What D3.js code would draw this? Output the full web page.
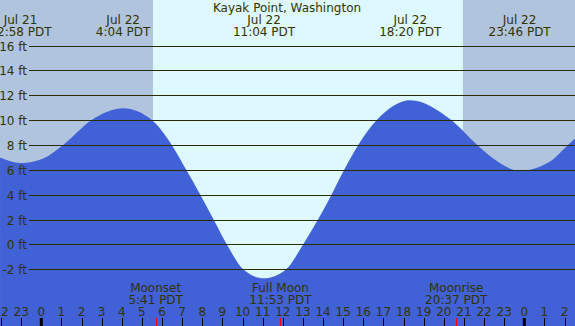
<!DOCTYPE html>
<html><head><meta charset="utf-8">
<script src="https://cdn.jsdelivr.net/npm/d3@7/dist/d3.min.js"></script>
<style>html,body{margin:0;padding:0;background:#fff;}svg{display:block;font-family:"DejaVu Sans",sans-serif;}</style>
</head><body>
<script>
// ---- data (hours relative to Jul 22 00:00 PDT) ----
const title = "Kayak Point, Washington";
const sampleHours = [-2.05, -1.033, 0.1, 1.09, 2.5, 4.067, 5.49, 6.48, 7.2, 7.9, 8.56, 9.22, 10.03, 11.067, 12.17, 13.01, 13.75, 14.42, 15.05, 15.75, 16.67, 18.333, 20.37, 21.66, 22.44, 23.767, 25.26, 26.17, 26.52];
const sampleFeet  = [7.0, 6.55, 6.92, 8.0, 10.0, 10.95, 10.0, 8.0, 6.0, 4.0, 2.0, 0.0, -2.0, -2.73, -2.0, 0.0, 2.0, 4.0, 6.0, 8.0, 10.0, 11.6, 10.0, 8.0, 6.93, 5.93, 6.65, 8.0, 8.53];
const extremeHours = [-1.033, 4.067, 11.067, 18.333, 23.767];
const extremeDates = ["Jul 21", "Jul 22", "Jul 22", "Jul 22", "Jul 22"];
const extremeTimes = ["22:58 PDT", "4:04 PDT", "11:04 PDT", "18:20 PDT", "23:46 PDT"];
const moonHours = [5.683, 11.883, 20.617];
const moonNames = ["Moonset", "Full Moon", "Moonrise"];
const moonTimes = ["5:41 PDT", "11:53 PDT", "20:37 PDT"];
const sunriseHour = 5.55, sunsetHour = 20.95;
const hourTicks = d3.range(-2, 27);
const hourLabels = hourTicks.map(h => String((h + 24) % 24));
const feetTicks = [-2, 0, 2, 4, 6, 8, 10, 12, 14, 16];
const feetLabels = feetTicks.map(f => f + " ft");

// ---- layout ----
const W = 575, H = 326;
const x = d3.scaleLinear().domain([0, 24]).range([41.3, 41.3 + 24 * 20.125]);
const y = d3.scaleLinear().domain([0, 16]).range([244.4, 45.5]);
const ink = "#333300";

const svg = d3.select("body").append("svg").attr("width", W).attr("height", H);
svg.append("rect").attr("width", W).attr("height", H).attr("fill", "#b0c4de");
svg.append("rect").attr("x", x(sunriseHour)).attr("y", 0)
  .attr("width", x(sunsetHour) - x(sunriseHour)).attr("height", H).attr("fill", "#ddf8ff");

const pts = sampleHours.map((h, i) => [h, sampleFeet[i]]);
const area = d3.area().x(d => x(d[0])).y0(H).y1(d => y(d[1])).curve(d3.curveMonotoneX);
svg.append("path").datum(pts).attr("d", area).attr("fill", "#4161d6");

// grid lines + labels
const g = svg.append("g");
feetTicks.forEach((f, i) => {
  const yy = Math.round(y(f)) + 0.5;
  g.append("line").attr("x1", 29).attr("x2", W).attr("y1", yy).attr("y2", yy)
    .attr("stroke", "#2b2b00").attr("stroke-width", 1);
  g.append("text").attr("x", 27).attr("y", yy + 4.5).attr("text-anchor", "end")
    .attr("font-size", 12).attr("fill", ink).text(feetLabels[i]);
});

// title
svg.append("text").attr("x", 287).attr("y", 12).attr("text-anchor", "middle")
  .attr("font-size", 12).attr("fill", ink).text(title);

// extreme labels
extremeHours.forEach((h, i) => {
  svg.append("text").attr("x", x(h)).attr("y", 24).attr("text-anchor", "middle")
    .attr("font-size", 12).attr("fill", ink).text(extremeDates[i]);
  svg.append("text").attr("x", x(h)).attr("y", 36).attr("text-anchor", "middle")
    .attr("font-size", 12).attr("fill", ink).text(extremeTimes[i]);
});

// moon labels
moonHours.forEach((h, i) => {
  svg.append("text").attr("x", x(h)).attr("y", 292).attr("text-anchor", "middle")
    .attr("font-size", 12).attr("fill", ink).text(moonNames[i]);
  svg.append("text").attr("x", x(h)).attr("y", 304).attr("text-anchor", "middle")
    .attr("font-size", 12).attr("fill", ink).text(moonTimes[i]);
});

// hour ticks
hourTicks.forEach((h, i) => {
  const xx = x(h);
  svg.append("text").attr("x", xx).attr("y", 316).attr("text-anchor", "middle")
    .attr("font-size", 12).attr("fill", ink).text(hourLabels[i]);
  if ((h + 24) % 24 === 0) {
    svg.append("rect").attr("x", xx - 1.5).attr("y", 318).attr("width", 3).attr("height", 8).attr("fill", "#000");
  } else {
    svg.append("line").attr("x1", Math.round(xx) + 0.5).attr("x2", Math.round(xx) + 0.5)
      .attr("y1", 318).attr("y2", H).attr("stroke", "#000").attr("stroke-width", 1);
  }
});
moonHours.forEach(h => {
  const xx = Math.round(x(h)) + 0.5;
  svg.append("line").attr("x1", xx).attr("x2", xx).attr("y1", 318).attr("y2", H)
    .attr("stroke", "#ff0000").attr("stroke-width", 1);
});
</script>
</body></html>
